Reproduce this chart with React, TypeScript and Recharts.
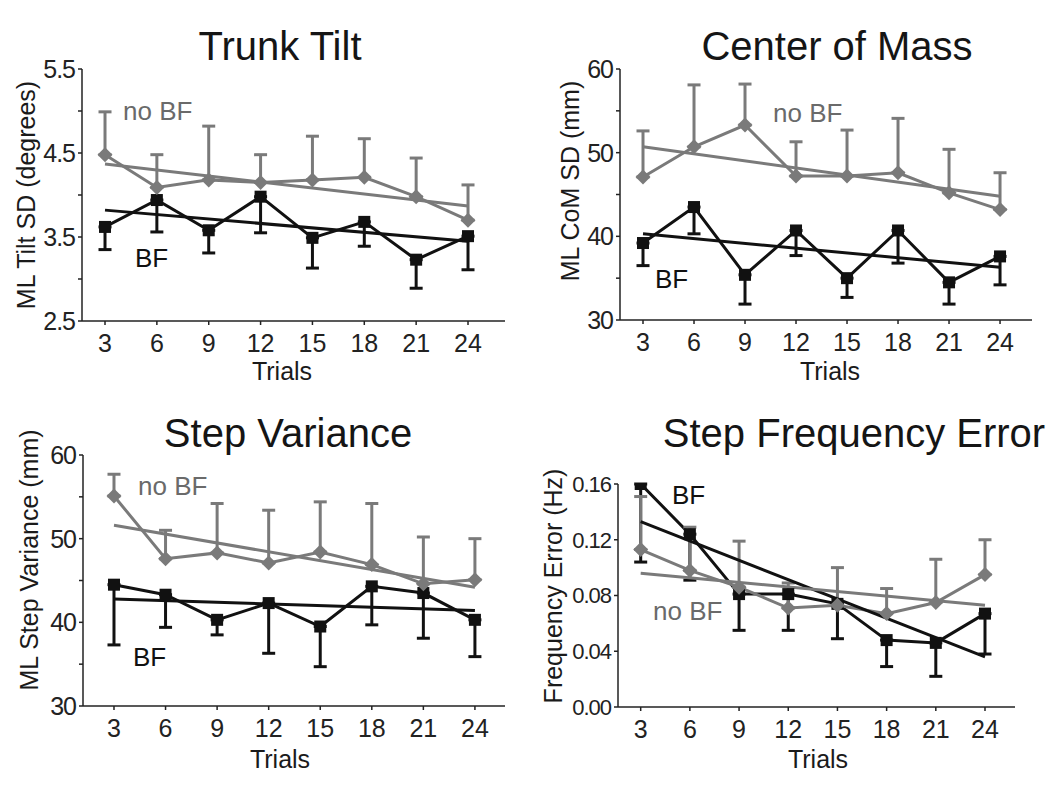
import React from 'react';
import { LineChart, Line, XAxis, YAxis, ErrorBar } from 'recharts';

const trials = [3, 6, 9, 12, 15, 18, 21, 24];

// Trunk Tilt: ML Tilt SD (degrees)
const tiltNoBf = [4.48, 4.09, 4.18, 4.15, 4.18, 4.21, 3.98, 3.70];
const tiltNoBfTop = [4.99, 4.48, 4.82, 4.48, 4.70, 4.67, 4.44, 4.12];
const tiltBf = [3.62, 3.94, 3.58, 3.98, 3.49, 3.68, 3.23, 3.51];
const tiltBfLow = [3.35, 3.56, 3.31, 3.55, 3.13, 3.39, 2.89, 3.11];
const tiltTrendNoBf = [4.37, 3.87];
const tiltTrendBf = [3.82, 3.45];

// Center of Mass: ML CoM SD (mm)
const comNoBf = [47.1, 50.7, 53.3, 47.2, 47.2, 47.6, 45.2, 43.2];
const comNoBfTop = [52.6, 58.1, 58.2, 51.3, 52.7, 54.1, 50.4, 47.6];
const comBf = [39.2, 43.5, 35.4, 40.7, 35.0, 40.7, 34.5, 37.6];
const comBfLow = [36.5, 40.3, 31.9, 37.7, 32.7, 36.8, 31.9, 34.2];
const comTrendNoBf = [50.7, 44.8];
const comTrendBf = [40.3, 36.3];

// Step Variance: ML Step Variance (mm)
const varNoBf = [55.1, 47.6, 48.3, 47.1, 48.4, 46.9, 44.6, 45.1];
const varNoBfTop = [57.7, 51.0, 54.2, 53.4, 54.4, 54.2, 50.2, 50.0];
const varBf = [44.5, 43.3, 40.3, 42.3, 39.5, 44.3, 43.5, 40.3];
const varBfLow = [37.3, 39.4, 38.5, 36.3, 34.7, 39.7, 38.1, 35.9];
const varTrendNoBf = [51.6, 44.2];
const varTrendBf = [42.8, 41.4];

// Step Frequency Error (Hz)
const freqNoBf = [0.113, 0.098, 0.086, 0.071, 0.073, 0.067, 0.075, 0.095];
const freqNoBfTop = [0.151, 0.129, 0.119, 0.089, 0.100, 0.085, 0.106, 0.120];
const freqBf = [0.160, 0.124, 0.081, 0.081, 0.074, 0.048, 0.046, 0.067];
const freqBfLow = [0.104, 0.091, 0.055, 0.055, 0.049, 0.029, 0.022, 0.038];
const freqTrendNoBf = [0.096, 0.073];
const freqTrendBf = [0.133, 0.036];

const GREY = '#7a7a7a';
const BLACK = '#111111';
const AXIS = '#222222';

function buildRows(noBf: number[], noBfTop: number[], bf: number[], bfLow: number[], trendNoBf: number[], trendBf: number[]) {
  const last = trials.length - 1;
  return trials.map((t, i) => ({
    t,
    noBf: noBf[i],
    noBfErr: [0, +(noBfTop[i] - noBf[i]).toFixed(4)],
    bf: bf[i],
    bfErr: [+(bf[i] - bfLow[i]).toFixed(4), 0],
    trendNoBf: i === 0 ? trendNoBf[0] : i === last ? trendNoBf[1] : null,
    trendBf: i === 0 ? trendBf[0] : i === last ? trendBf[1] : null,
  }));
}

const squareDot = (props: any) => {
  const { cx, cy, index } = props;
  if (cx == null || cy == null) return <g key={`s${index}`} />;
  return <rect key={`s${index}`} x={cx - 6} y={cy - 6} width={12} height={12} fill={BLACK} />;
};

const diamondDot = (props: any) => {
  const { cx, cy, index } = props;
  if (cx == null || cy == null) return <g key={`d${index}`} />;
  const r = 7.5;
  return (
    <polygon
      key={`d${index}`}
      points={`${cx},${cy - r} ${cx + r},${cy} ${cx},${cy + r} ${cx - r},${cy}`}
      fill={GREY}
    />
  );
};

interface PanelProps {
  left: number;
  top: number;
  width: number;
  height: number;
  margin: { top: number; right: number; bottom: number; left: number };
  xDomain: number[];
  yDomain: number[];
  yTicks: number[];
  yLabeled: number[];
  yTickFont: number;
  fmt: (v: number) => string;
  rows: any[];
}

function Panel(p: PanelProps) {
  return (
    <div style={{ position: 'absolute', left: p.left, top: p.top }}>
      <LineChart width={p.width} height={p.height} data={p.rows} margin={p.margin}>
        <XAxis
          type="number"
          dataKey="t"
          domain={p.xDomain}
          ticks={trials}
          interval={0}
          allowDataOverflow
          height={60}
          tickSize={4}
          tickMargin={9}
          stroke={AXIS}
          strokeWidth={1.5}
          tick={{ fontSize: 25, fill: AXIS }}
        />
        <YAxis
          type="number"
          domain={p.yDomain}
          ticks={p.yTicks}
          interval={0}
          allowDataOverflow
          width={60}
          tickSize={4}
          tickMargin={3}
          stroke={AXIS}
          strokeWidth={1.5}
          tick={{ fontSize: p.yTickFont, fill: AXIS, letterSpacing: -1 }}
          tickFormatter={(v: number) => (p.yLabeled.some((l) => Math.abs(l - v) < 1e-9) ? p.fmt(v) : '')}
        />
        <Line
          dataKey="bf"
          stroke={BLACK}
          strokeWidth={3}
          dot={squareDot}
          activeDot={false}
          isAnimationActive={false}
        >
          <ErrorBar dataKey="bfErr" direction="y" width={6.5} strokeWidth={3} stroke={BLACK} isAnimationActive={false} />
        </Line>
        <Line
          dataKey="noBf"
          stroke={GREY}
          strokeWidth={3}
          dot={diamondDot}
          activeDot={false}
          isAnimationActive={false}
        >
          <ErrorBar dataKey="noBfErr" direction="y" width={6.5} strokeWidth={3} stroke={GREY} isAnimationActive={false} />
        </Line>
        <Line
          dataKey="trendBf"
          stroke={BLACK}
          strokeWidth={3}
          dot={false}
          activeDot={false}
          connectNulls
          isAnimationActive={false}
        />
        <Line
          dataKey="trendNoBf"
          stroke={GREY}
          strokeWidth={3}
          dot={false}
          activeDot={false}
          connectNulls
          isAnimationActive={false}
        />
      </LineChart>
    </div>
  );
}

const titleStyle = { fontSize: 40, fill: '#151515' };
const labelStyle = { fontSize: 25, fill: '#1a1a1a' };

export default function App() {
  return (
    <div
      style={{
        position: 'absolute',
        left: 0,
        top: 0,
        width: 1050,
        height: 799,
        background: '#ffffff',
        fontFamily: '"Liberation Sans", Arial, Helvetica, sans-serif',
        overflow: 'hidden',
      }}
    >
      <Panel
        left={0}
        top={0}
        width={525}
        height={400}
        margin={{ top: 69, right: 20, bottom: 19, left: 22 }}
        xDomain={[1.669, 26.14]}
        yDomain={[2.5, 5.5]}
        yTicks={[2.5, 3, 3.5, 4, 4.5, 5, 5.5]}
        yLabeled={[2.5, 3.5, 4.5, 5.5]}
        yTickFont={25}
        fmt={(v) => v.toFixed(1)}
        rows={buildRows(tiltNoBf, tiltNoBfTop, tiltBf, tiltBfLow, tiltTrendNoBf, tiltTrendBf)}
      />
      <Panel
        left={525}
        top={0}
        width={525}
        height={400}
        margin={{ top: 69, right: 18, bottom: 20, left: 35 }}
        xDomain={[1.647, 25.88]}
        yDomain={[30, 60]}
        yTicks={[30, 35, 40, 45, 50, 55, 60]}
        yLabeled={[30, 40, 50, 60]}
        yTickFont={25}
        fmt={(v) => String(v)}
        rows={buildRows(comNoBf, comNoBfTop, comBf, comBfLow, comTrendNoBf, comTrendBf)}
      />
      <Panel
        left={0}
        top={400}
        width={525}
        height={399}
        margin={{ top: 55, right: 20, bottom: 33, left: 23 }}
        xDomain={[1.197, 25.75]}
        yDomain={[30, 60]}
        yTicks={[30, 35, 40, 45, 50, 55, 60]}
        yLabeled={[30, 40, 50, 60]}
        yTickFont={25}
        fmt={(v) => String(v)}
        rows={buildRows(varNoBf, varNoBfTop, varBf, varBfLow, varTrendNoBf, varTrendBf)}
      />
      <Panel
        left={525}
        top={400}
        width={525}
        height={399}
        margin={{ top: 84, right: 35, bottom: 32, left: 33 }}
        xDomain={[1.616, 25.83]}
        yDomain={[0, 0.16]}
        yTicks={[0, 0.04, 0.08, 0.12, 0.16]}
        yLabeled={[0, 0.04, 0.08, 0.12, 0.16]}
        yTickFont={22}
        fmt={(v) => v.toFixed(2)}
        rows={buildRows(freqNoBf, freqNoBfTop, freqBf, freqBfLow, freqTrendNoBf, freqTrendBf)}
      />
      <svg
        width={1050}
        height={799}
        style={{ position: 'absolute', left: 0, top: 0, pointerEvents: 'none' }}
      >
        {/* titles */}
        <text x={280} y={60} textAnchor="middle" style={titleStyle}>Trunk Tilt</text>
        <text x={837} y={60} textAnchor="middle" style={titleStyle}>Center of Mass</text>
        <text x={288} y={447} textAnchor="middle" style={titleStyle}>Step Variance</text>
        <text x={854} y={447} textAnchor="middle" style={titleStyle}>Step Frequency Error</text>

        {/* axis titles */}
        <text x={282} y={380} textAnchor="middle" style={labelStyle}>Trials</text>
        <text x={830} y={380} textAnchor="middle" style={labelStyle}>Trials</text>
        <text x={280} y={768} textAnchor="middle" style={labelStyle}>Trials</text>
        <text x={818} y={768} textAnchor="middle" style={labelStyle}>Trials</text>
        <text transform="translate(35,195) rotate(-90)" textAnchor="middle" style={labelStyle}>ML Tilt SD (degrees)</text>
        <text transform="translate(579,181) rotate(-90)" textAnchor="middle" style={labelStyle}>ML CoM SD (mm)</text>
        <text transform="translate(38,560) rotate(-90)" textAnchor="middle" style={labelStyle}>ML Step Variance (mm)</text>
        <text transform="translate(562,586) rotate(-90)" textAnchor="middle" style={labelStyle}>Frequency Error (Hz)</text>

        {/* series labels */}
        <text x={123} y={120} style={{ fontSize: 26, fill: '#6a6a6a' }}>no BF</text>
        <text x={135} y={267} style={{ fontSize: 26, fill: BLACK }}>BF</text>
        <text x={773} y={122} style={{ fontSize: 26, fill: '#6a6a6a' }}>no BF</text>
        <text x={655} y={288} style={{ fontSize: 26, fill: BLACK }}>BF</text>
        <text x={138} y={495} style={{ fontSize: 26, fill: '#6a6a6a' }}>no BF</text>
        <text x={133} y={666} style={{ fontSize: 26, fill: BLACK }}>BF</text>
        <text x={672} y={504} style={{ fontSize: 26, fill: BLACK }}>BF</text>
        <text x={653} y={620} style={{ fontSize: 26, fill: '#6a6a6a' }}>no BF</text>
      </svg>
    </div>
  );
}
